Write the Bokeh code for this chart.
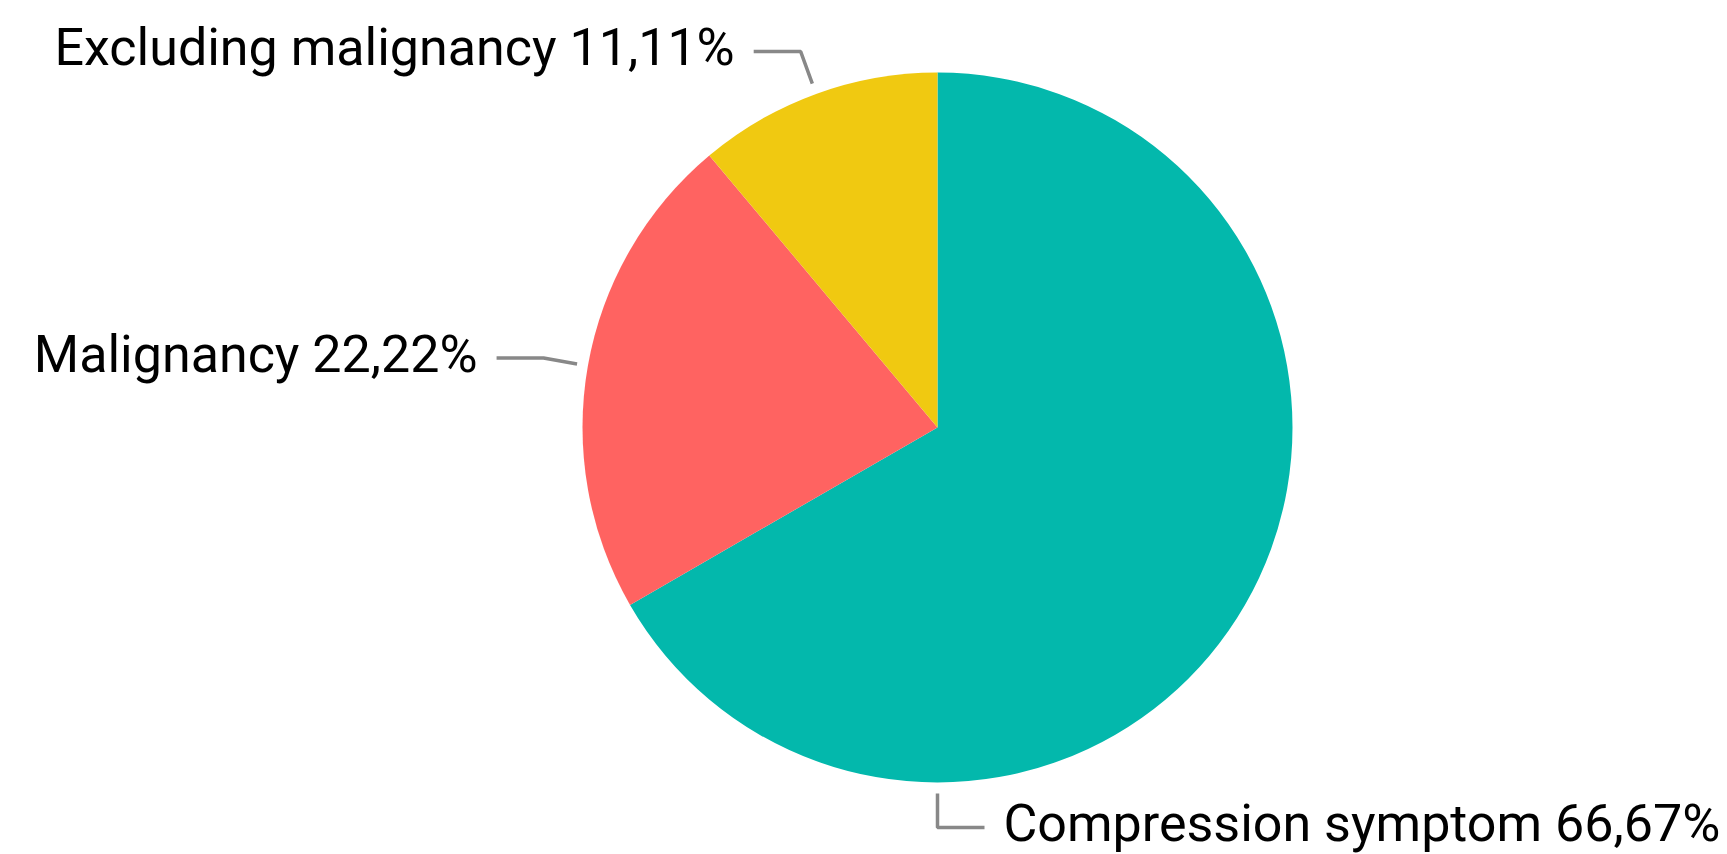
import math
from bokeh.plotting import figure
from bokeh.models import Range1d, ColumnDataSource
from bokeh.core.properties import value
from bokeh.embed import file_html
from bokeh.resources import INLINE

categories = ["Compression symptom", "Malignancy", "Excluding malignancy"]
values = [66.67, 22.22, 11.11]
colors = ["#03B8AC", "#FF6361", "#F0C911"]

# layout
W, H = 1719, 854
CX, CY = 937, 427          # pie centre in page pixels
R = 355
label_angle = [-90, 170, 110]   # where each leader line leaves the pie (deg)
side = [1, -1, -1]              # text on right (+1) or left (-1)
FONT = "Roboto"
FS = "52px"

p = figure(width=W, height=H, output_backend="svg", toolbar_location=None,
           x_range=Range1d(-CX, W - CX), y_range=Range1d(CY - H, CY),
           min_border=0, outline_line_color=None)
p.axis.visible = False
p.grid.visible = False
p.background_fill_color = "white"
p.border_fill_color = "white"

total = sum(values)
starts, ends = [], []
cum = 0.0
for v in values:
    a0 = math.pi / 2 - 2 * math.pi * cum / total
    cum += v
    a1 = math.pi / 2 - 2 * math.pi * cum / total
    starts.append(a0)
    ends.append(a1)

src = ColumnDataSource(dict(x=[0] * len(values), y=[0] * len(values),
                            start=starts, end=ends, color=colors))
p.wedge(x="x", y="y", radius=R, start_angle="start", end_angle="end",
        direction="clock", fill_color="color", line_color=None, source=src)

for cat, v, ang, s in zip(categories, values, label_angle, side):
    a = math.radians(ang)
    x0, y0 = 366 * math.cos(a), 366 * math.sin(a)
    x1, y1 = 400 * math.cos(a), 400 * math.sin(a)
    x2 = x1 + s * 47
    p.line([x0, x1, x2], [y0, y1, y1], line_color="#888888", line_width=3.5)
    label = f"{cat} {v:.2f}".replace(".", ",") + "%"
    p.text(x=[x2 + s * 19], y=[y1 + 4], text=[label], text_font=value(FONT),
           text_font_size=FS, text_color="#000000",
           text_align="left" if s > 0 else "right", text_baseline="middle")

open("out.html", "w").write(file_html(p, INLINE))
